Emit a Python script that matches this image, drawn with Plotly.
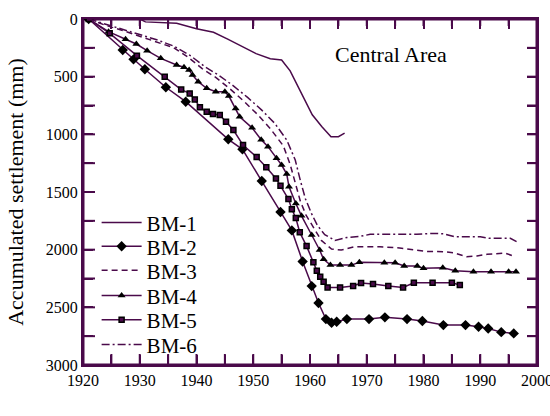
import plotly.graph_objects as go

# ---- data ----
bm1_year = [1921, 1930, 1931, 1936.5, 1940, 1943, 1945.5, 1950.5, 1953, 1955, 1956.5, 1958.6, 1960.4, 1962.1, 1963.7, 1965, 1966.1]
bm1_val = [0, 0, 25, 37, 85, 115, 175, 300, 345, 355, 450, 655, 830, 935, 1020, 1020, 990]

bm2_year = [1921, 1927, 1928.9, 1930.9, 1934.6, 1938.1, 1945.6, 1948.1, 1951.5, 1954.8, 1956.8, 1958.7, 1960.3, 1961.5,
            1962.8, 1963.8, 1964.7, 1966.5, 1970.4, 1973.2, 1977.1, 1979.8, 1983.5, 1987.4, 1989.7, 1991.4, 1993.7, 1995.9]
bm2_val = [0, 269, 350, 436, 592, 717, 1043, 1130, 1405, 1673, 1833, 2102, 2316, 2463,
           2602, 2634, 2625, 2602, 2602, 2587, 2602, 2619, 2654, 2654, 2669, 2683, 2715, 2726]

bm3_year = [1921, 1924, 1927, 1930, 1933, 1936, 1938.5, 1941, 1943.5, 1946, 1948.5, 1950.8, 1953, 1955.3, 1956.5, 1957.4,
            1958.3, 1959.3, 1960.5, 1962.0, 1963.8, 1965.5, 1967.8, 1972.3, 1975.8, 1978.8, 1980.6, 1983.5, 1985.3,
            1987.6, 1989.4, 1991.2, 1994.4, 1996.2]
bm3_val = [0, 55, 100, 150, 195, 250, 330, 430, 510, 610, 720, 830, 950, 1100, 1260, 1420,
           1580, 1700, 1800, 1920, 1995, 2003, 1975, 1975, 1985, 2000, 2015, 2018, 2027,
           2061, 2055, 2040, 2030, 2061]

bm4_year = [1921, 1924.5, 1927.5, 1929.4, 1931.3, 1933.7, 1936.5, 1937.8, 1938.7, 1939.3, 1940.3, 1941.8, 1943.4, 1945,
            1945.7, 1946.9, 1947.6, 1949.8, 1951.4, 1952.6, 1954.1, 1955, 1955.9, 1956.3, 1957.5, 1958.5, 1960.3,
            1961.7, 1962.4, 1963.6, 1965.3, 1967.3, 1968.7, 1973.1, 1975, 1976.6, 1978.9, 1980, 1983.4, 1985.6,
            1988.8, 1991.9, 1995, 1996.3]
bm4_val = [0, 110, 176, 217, 275, 341, 399, 419, 442, 486, 544, 601, 630, 630,
           668, 775, 847, 944, 1046, 1107, 1208, 1266, 1344, 1454, 1600, 1707, 1873,
           2003, 2084, 2134, 2134, 2134, 2110, 2113, 2113, 2142, 2142, 2162, 2157, 2183,
           2192, 2192, 2192, 2192]

bm5_year = [1921, 1924.7, 1929.5, 1934.4, 1937.3, 1938.8, 1939.7, 1940.6, 1941.8, 1942.9, 1944.1, 1945.2, 1946.5,
            1948.2, 1950.6, 1952.3, 1954, 1954.8, 1956.2, 1956.8, 1957.5, 1958.2, 1959.4, 1960.6, 1961.2, 1961.8,
            1962.4, 1963.1, 1965.3, 1967.6, 1969, 1971.1, 1973.8, 1976.4, 1978.3, 1981.6, 1985, 1986.4]
bm5_val = [0, 124, 318, 500, 612, 645, 697, 766, 804, 824, 833, 890, 963,
           1093, 1197, 1285, 1382, 1446, 1561, 1650, 1725, 1850, 1969, 2110, 2183, 2235,
           2278, 2327, 2327, 2315, 2290, 2297, 2316, 2327, 2287, 2287, 2287, 2307]

bm6_year = [1921, 1924, 1927, 1930, 1933, 1936, 1939, 1941.5, 1944, 1946.5, 1949, 1951.5, 1953.8, 1955.9, 1957.4,
            1958.3, 1959.2, 1960.3, 1961.3, 1962.6, 1964.4, 1966.5, 1968.8, 1970.6, 1978.8, 1981.7, 1983.5, 1985.5,
            1990, 1991.5, 1995.3, 1996.4]
bm6_val = [0, 45, 90, 135, 180, 235, 320, 415, 490, 580, 680, 790, 905, 1049, 1223,
           1400, 1560, 1690, 1790, 1870, 1920, 1894, 1885, 1867, 1867, 1859, 1862, 1888,
           1888, 1902, 1902, 1931]

# axis ranges, tick positions (every 5 years / 250 mm) and labels (only on the major ones)
x_range = [1920, 2000]
y_range = [0, 3000]
x_tickvals = [1920, 1925, 1930, 1935, 1940, 1945, 1950, 1955, 1960, 1965, 1970, 1975, 1980, 1985, 1990, 1995, 2000]
x_ticktext = ["1920", "", "1930", "", "1940", "", "1950", "", "1960", "", "1970", "", "1980", "", "1990", "", "2000"]
y_tickvals = [0, 250, 500, 750, 1000, 1250, 1500, 1750, 2000, 2250, 2500, 2750, 3000]
y_ticktext = ["0", "", "500", "", "1000", "", "1500", "", "2000", "", "2500", "", "3000"]

PURPLE = "#4a0a4a"
FONT = "'Liberation Serif', 'Times New Roman', serif"

W, H = 550, 416
M = dict(l=83, r=13, t=19, b=51)
plot_w = W - M["l"] - M["r"]
plot_h = H - M["t"] - M["b"]
px_x = (x_range[1] - x_range[0]) / plot_w
px_y = (y_range[1] - y_range[0]) / plot_h

legend_names = ["legend", "legend2", "legend3", "legend4", "legend5", "legend6"]

fig = go.Figure()

# ---- frame and inner tick marks as line traces, built from the axis ranges and tick lists ----
frame_x = [x_range[0], x_range[1], x_range[1], x_range[0], x_range[0]]
frame_y = [y_range[0], y_range[0], y_range[1], y_range[1], y_range[0]]
tick_x, tick_y = [], []
for v in x_tickvals:
    tick_x += [v, v, None, v, v, None]
    tick_y += [y_range[1], y_range[1] - 11 * px_y, None, y_range[0], y_range[0] + 7 * px_y, None]
for v in y_tickvals:
    tick_x += [x_range[0], x_range[0] + 12 * px_x, None, x_range[1], x_range[1] - 10 * px_x, None]
    tick_y += [v, v, None, v, v, None]
fig.add_trace(go.Scatter(x=frame_x, y=frame_y, mode="lines", showlegend=False,
                         line=dict(color=PURPLE, width=3)))
fig.add_trace(go.Scatter(x=tick_x, y=tick_y, mode="lines", showlegend=False,
                         line=dict(color=PURPLE, width=2)))

# ---- data series ----
fig.add_trace(go.Scatter(x=bm1_year, y=bm1_val, name="BM-1", mode="lines", legend=legend_names[0],
                         line=dict(color=PURPLE, width=1.5)))
fig.add_trace(go.Scatter(x=bm2_year, y=bm2_val, name="BM-2", mode="lines+markers", legend=legend_names[1],
                         line=dict(color=PURPLE, width=1.5),
                         marker=dict(symbol="diamond", size=8, color="black")))
fig.add_trace(go.Scatter(x=bm3_year, y=bm3_val, name="BM-3", mode="lines", legend=legend_names[2],
                         line=dict(color=PURPLE, width=1.5, dash="6px,4px")))
fig.add_trace(go.Scatter(x=bm4_year, y=bm4_val, name="BM-4", mode="lines+markers", legend=legend_names[3],
                         line=dict(color=PURPLE, width=1.5),
                         marker=dict(symbol="triangle-up", size=7, color="black")))
fig.add_trace(go.Scatter(x=bm5_year, y=bm5_val, name="BM-5", mode="lines+markers", legend=legend_names[4],
                         line=dict(color=PURPLE, width=1.5),
                         marker=dict(symbol="square", size=5, color=PURPLE,
                                     line=dict(color="black", width=1.5))))
fig.add_trace(go.Scatter(x=bm6_year, y=bm6_val, name="BM-6", mode="lines", legend=legend_names[5],
                         line=dict(color=PURPLE, width=1.5, dash="8px,3px,2px,3px")))

legend_y = [0.411, 0.342, 0.2725, 0.200, 0.130, 0.058]
legend_layout = {}
for name, yy in zip(legend_names, legend_y):
    legend_layout[name] = dict(x=0.030, y=yy, xanchor="left", yanchor="middle",
                               bgcolor="rgba(0,0,0,0)", itemwidth=40, borderwidth=0,
                               font=dict(family=FONT, size=21, color="black"))

axis_style = dict(showline=True, linecolor=PURPLE, linewidth=2, mirror="ticks",
                  ticks="inside", ticklen=10, tickwidth=2, tickcolor=PURPLE,
                  showgrid=False, zeroline=False, automargin=False, ticklabeloverflow="allow",
                  tickfont=dict(family=FONT, size=16, color="black"))

fig.update_layout(
    width=W, height=H,
    margin=M,
    paper_bgcolor="#ffffff", plot_bgcolor="#ffffff",
    showlegend=True,
    xaxis=dict(range=x_range, tickmode="array", tickvals=x_tickvals, ticktext=x_ticktext, **axis_style),
    yaxis=dict(range=y_range[::-1], tickmode="array", tickvals=y_tickvals, ticktext=y_ticktext,
               title=dict(text="Accumulated settlement (mm)", font=dict(family=FONT, size=22, color="black"),
                          standoff=16),
               **axis_style),
    **legend_layout,
)

# x-axis title, placed low so that it is mostly below the visible page like in the reference
fig.add_annotation(xref="paper", yref="paper", x=0.5, y=-0.175, yanchor="middle",
                   text="Year", showarrow=False, font=dict(family=FONT, size=22, color="black"))

fig.add_annotation(x=1974.3, y=312, text="Central Area", showarrow=False,
                   font=dict(family=FONT, size=22, color="black"))

fig.write_html("out.html")
